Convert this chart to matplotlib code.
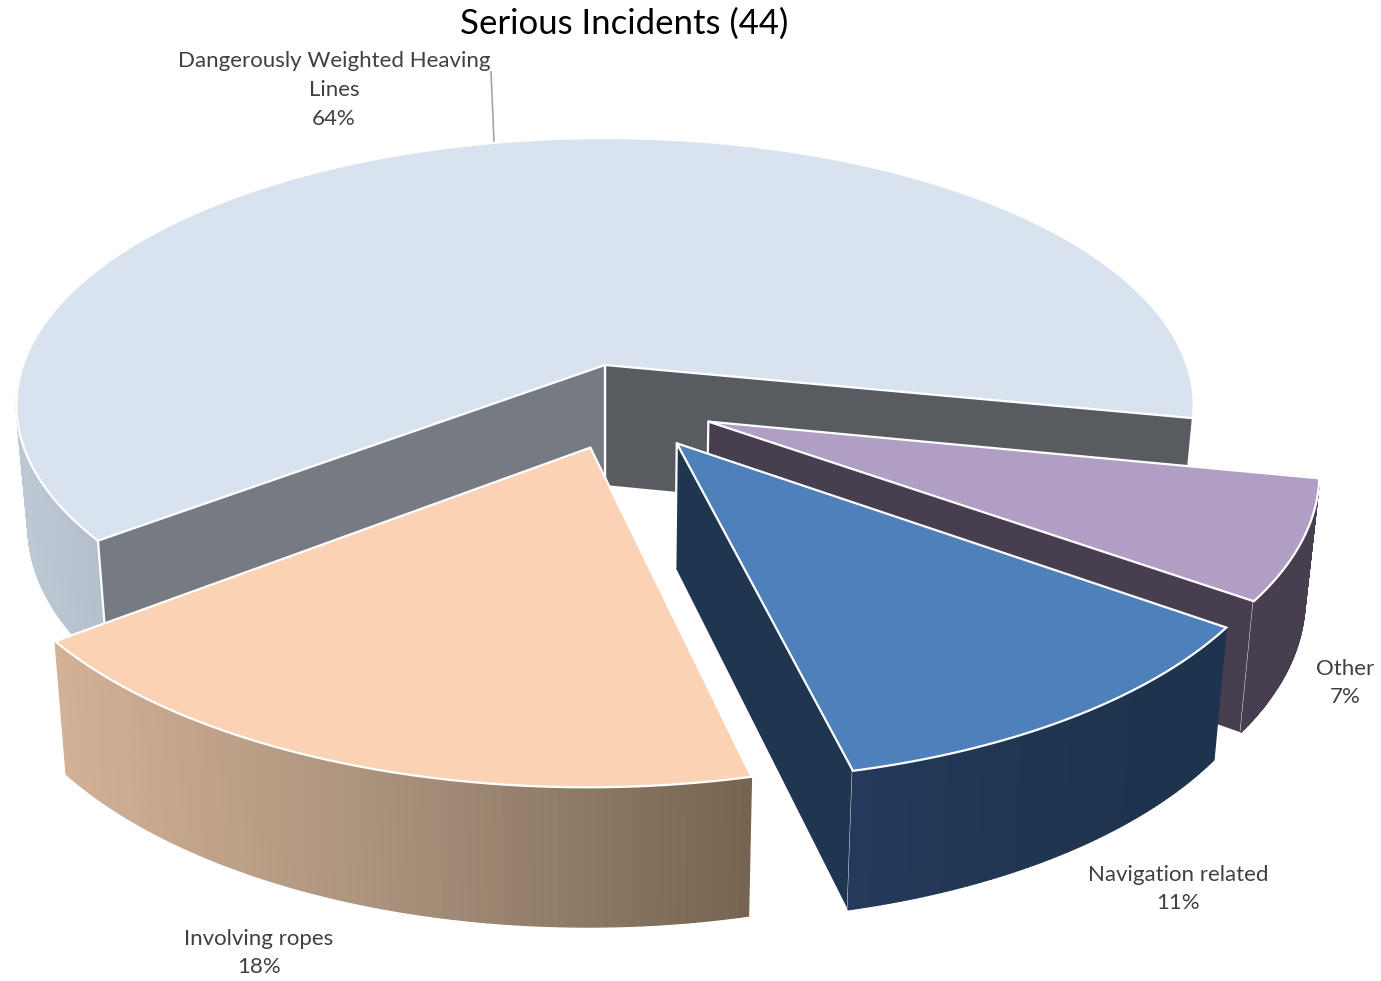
import numpy as np
import matplotlib
matplotlib.use('Agg')
import matplotlib.pyplot as plt
from matplotlib.colors import to_rgb

plt.rcParams['font.family'] = ['Lato', 'DejaVu Sans']

# Data
categories = ['Dangerously Weighted Heaving\nLines', 'Other', 'Navigation related', 'Involving ropes']
counts = [28, 3, 5, 8]  # out of 44, these round to the printed percentages
title = 'Serious Incidents (44)'

# Projection of the tilted pie, all in pixels
cx, cy = 605, 365
rx, ry = 582, 261
persp = 0.15
depth = 120
start = -11.4  # end of the big slice, slices then run clockwise

fig = plt.figure(figsize=(13.81, 9.81), dpi=100)
ax = fig.add_axes([0, 0, 1, 1])
ax.set_xlim(0, 1381)
ax.set_ylim(981, 0)
ax.axis('off')

z = [1]


def next_z():
    z[0] += 1
    return z[0]


def top_pt(x, y, off):
    x = x + off[0]
    y = y + off[1]
    d = 1 + persp * y
    return cx + rx * x / d, cy - ry * y / d, d


def bottom_pt(x, y, off):
    sx, sy, d = top_pt(x, y, off)
    return cx + (sx - cx) * 0.98, sy + depth / d ** 0.7


def rim_xy(a, off, fn):
    a = np.radians(a)
    return np.array([fn(np.cos(t), np.sin(t), off)[:2] for t in a])


def wall(a, off, color):
    t = np.radians(a)
    p = [top_pt(0, 0, off)[:2], top_pt(np.cos(t), np.sin(t), off)[:2],
         bottom_pt(np.cos(t), np.sin(t), off), bottom_pt(0, 0, off)]
    p = np.array(p)
    zz = next_z()
    ax.fill(p[:, 0], p[:, 1], color=color, lw=0, zorder=zz)
    ax.plot(p[1:3, 0], p[1:3, 1], color='white', lw=1.6, zorder=zz)
    ax.plot(p[[0, 3], 0], p[[0, 3], 1], color='white', lw=1.6, zorder=zz)


def rim(a0, a1, off, stops):
    a = np.linspace(a0, a1, 90)
    up = rim_xy(a, off, top_pt)
    lo = rim_xy(a, off, bottom_pt)
    xmin, xmax = up[:, 0].min(), up[:, 0].max()
    cols = np.array([to_rgb(c) for c in stops])
    pos = np.linspace(0, 1, len(stops))
    zz = next_z()
    for i in range(len(a) - 1):
        f = (up[i, 0] - xmin) / (xmax - xmin)
        col = [np.interp(f, pos, cols[:, k]) for k in range(3)]
        q = np.array([up[i], up[i + 1], lo[i + 1], lo[i]])
        ax.fill(q[:, 0], q[:, 1], color=col, lw=1, zorder=zz)


def top(a0, a1, off, color):
    a = np.linspace(a0, a1, 200)
    p = rim_xy(a, off, top_pt)
    c = np.array(top_pt(0, 0, off)[:2])
    p = np.vstack([c, p, c])
    ax.fill(p[:, 0], p[:, 1], facecolor=color, edgecolor='white', lw=1.6,
            joinstyle='miter', zorder=next_z())


# slice edges from the counts, clockwise from the end of the big slice
sweep = np.array(counts) / sum(counts) * 360
a_other = start - sweep[1]
a_nav = a_other - sweep[2]
a_rope = a_nav - sweep[3]

off_main = (0, 0)
off_other = (0.172, -0.21)
off_nav = (0.118, -0.287)
off_rope = (-0.024, -0.302)

# big slice
rim(a_rope - 38, a_rope, off_main, ['#BFC9D6', '#B4BFCC'])
wall(start, off_main, '#585B60')
wall(a_rope, off_main, '#767A82')
top(start, start + sweep[0], off_main, '#D9E3F0')

# other
wall(a_other, off_other, '#473E50')
rim(a_other, start, off_other, ['#473E50', '#473E50'])
top(a_other, start, off_other, '#B19EC5')

# navigation
wall(a_nav, off_nav, '#1F3550')
rim(a_nav, a_other, off_nav, ['#243A5C', '#1F3550', '#1E334D'])
top(a_nav, a_other, off_nav, '#4E80BC')

# ropes
rim(a_rope, a_nav, off_rope, ['#D3B196', '#A68F79', '#756350'])
top(a_rope, a_nav, off_rope, '#FBD2B3')

# labels
zt = next_z()
ax.plot([491, 494], [72, 141], color='#A6A6A6', lw=1.2, zorder=zt)
ax.text(624, 24, title, ha='center', va='center', fontsize=25, color='black', zorder=zt)
lab = '#404040'
pct = [round(c / sum(counts) * 100) for c in counts]
ax.text(334, 90, categories[0] + '\n%d%%' % pct[0], ha='center', va='center', fontsize=16, color=lab, linespacing=1.55, zorder=zt)
ax.text(1345, 683, categories[1] + '\n%d%%' % pct[1], ha='center', va='center', fontsize=16, color=lab, linespacing=1.55, zorder=zt)
ax.text(1178, 889, categories[2] + '\n%d%%' % pct[2], ha='center', va='center', fontsize=16, color=lab, linespacing=1.55, zorder=zt)
ax.text(259, 953, categories[3] + '\n%d%%' % pct[3], ha='center', va='center', fontsize=16, color=lab, linespacing=1.55, zorder=zt)

fig.savefig('out.png', dpi=100)
